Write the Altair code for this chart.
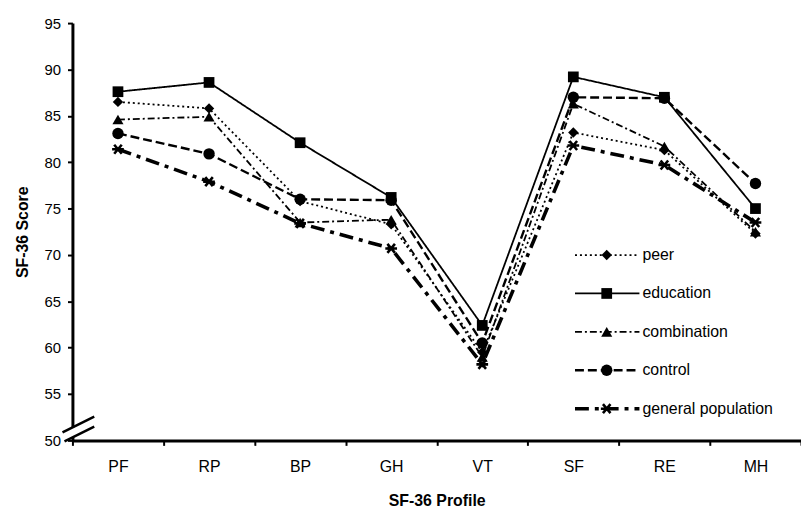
import math
import altair as alt
import pandas as pd

cats = ["PF", "RP", "BP", "GH", "VT", "SF", "RE", "MH"]
series = ["peer", "education", "combination", "control", "general population"]
peer = [86.5, 85.8, 75.8, 73.3, 59.5, 83.2, 81.3, 72.3]
education = [87.6, 88.6, 82.1, 76.2, 62.4, 89.2, 87.0, 75.0]
combination = [84.6, 84.9, 73.5, 73.8, 59.0, 86.3, 81.7, 72.5]
control = [83.1, 80.9, 76.0, 75.9, 60.5, 87.0, 86.9, 77.7]
genpop = [81.4, 77.9, 73.4, 70.7, 58.2, 81.8, 79.7, 73.5]
y_ticks = [50, 55, 60, 65, 70, 75, 80, 85, 90, 95]

values = [peer, education, combination, control, genpop]
rows = []
for s, vals in zip(series, values):
    for c, v in zip(cats, vals):
        rows.append({"profile": c, "score": v, "series": s})
df = pd.DataFrame(rows)
legend_df = pd.DataFrame({"series": series})


def asterisk_path():
    parts = []
    L, w = 1.0, 0.22
    for deg in (0, 50, 130):
        a = math.radians(deg)
        dx, dy = math.cos(a), math.sin(a)
        nx, ny = -dy, dx
        pts = [(dx * L + nx * w, dy * L + ny * w), (dx * L - nx * w, dy * L - ny * w),
               (-dx * L - nx * w, -dy * L - ny * w), (-dx * L + nx * w, -dy * L + ny * w)]
        parts.append("M" + "L".join(f"{x:.3f},{y:.3f}" for x, y in pts) + "Z")
    return "".join(parts)


shape_scale = alt.Scale(domain=series, range=["diamond", "square", "triangle-up", "circle", asterisk_path()])
size_scale = alt.Scale(domain=series, range=[110, 140, 110, 120, 170])
dashes = [[2, 3], [1, 0], [7, 3, 2, 3], [9, 4], [14, 6, 4, 6]]
widths = [1.8, 1.8, 1.8, 2.4, 3.6]

x_enc = alt.X("profile:N", sort=cats,
              scale=alt.Scale(type="band", domain=cats, paddingInner=0, paddingOuter=0),
              axis=alt.Axis(title="SF-36 Profile", labelAngle=0, tickBand="extent",
                            labelFontSize=16, titleFontSize=16, titleFontWeight="bold",
                            labelPadding=13, titlePadding=19, domainWidth=3, tickWidth=2,
                            tickSize=5))
y_enc = alt.Y("score:Q", scale=alt.Scale(domain=[50, 95], nice=False, zero=False),
              axis=alt.Axis(title="SF-36 Score", values=y_ticks, grid=False,
                            labelFontSize=15, titleFontSize=16, titleFontWeight="bold",
                            labelPadding=7, titlePadding=14, domainWidth=3, tickWidth=2,
                            tickSize=5))

line_layers = []
for s, d, w in zip(series, dashes, widths):
    line_layers.append(
        alt.Chart(df).transform_filter(alt.datum.series == s)
        .mark_line(color="black", strokeDash=d, strokeWidth=w)
        .encode(x=x_enc, y=y_enc)
    )
points = alt.Chart(df).mark_point(filled=True, color="black", opacity=1).encode(
    x=x_enc, y=y_enc,
    shape=alt.Shape("series:N", scale=shape_scale, legend=None),
    size=alt.Size("series:N", scale=size_scale, legend=None),
)
main = alt.layer(*line_layers, points)

leg_y = alt.Y("series:N", sort=series,
              scale=alt.Scale(type="point", domain=series, range=[234, 389], padding=0),
              axis=None)
leg_rule_layers = []
for s, d, w in zip(series, dashes, widths):
    leg_rule_layers.append(
        alt.Chart(legend_df).transform_filter(alt.datum.series == s)
        .mark_rule(color="black", strokeDash=d, strokeWidth=w)
        .encode(x=alt.value(507), x2=alt.value(572), y=leg_y)
    )
leg_pts = alt.Chart(legend_df).mark_point(filled=True, color="black", opacity=1).encode(
    x=alt.value(539), y=leg_y,
    shape=alt.Shape("series:N", scale=shape_scale, legend=None),
    size=alt.Size("series:N", scale=size_scale, legend=None),
)
leg_text = alt.Chart(legend_df).mark_text(align="left", baseline="middle", fontSize=16,
                                          color="black").encode(
    x=alt.value(575), y=leg_y, text="series:N",
)
legend = alt.layer(*leg_rule_layers, leg_pts, leg_text)

one = pd.DataFrame({"k": [0]})
cut = alt.Chart(one).mark_rule(color="white", strokeWidth=6).encode(
    x=alt.value(0), x2=alt.value(0), y=alt.value(408), y2=alt.value(418))
brk1 = alt.Chart(one).mark_rule(color="black", strokeWidth=2.5).encode(
    x=alt.value(-10), x2=alt.value(22), y=alt.value(413), y2=alt.value(397))
brk2 = alt.Chart(one).mark_rule(color="black", strokeWidth=2.5).encode(
    x=alt.value(-8), x2=alt.value(22), y=alt.value(422), y2=alt.value(407))
breaks = alt.layer(cut, brk1, brk2)

chart = alt.layer(main, legend, breaks).resolve_scale(y="independent").properties(
    width=735, height=421,
    autosize=alt.AutoSizeParams(type="none"),
    padding={"left": 65, "top": 13, "right": 0, "bottom": 70},
).configure(font="Liberation Sans").configure_view(stroke=None).configure_axis(
    domainColor="black", tickColor="black", labelColor="black", titleColor="black",
    labelFont="Liberation Sans", titleFont="Liberation Sans",
)

chart.save("out.html", embed_options={"renderer": "svg", "actions": False})
